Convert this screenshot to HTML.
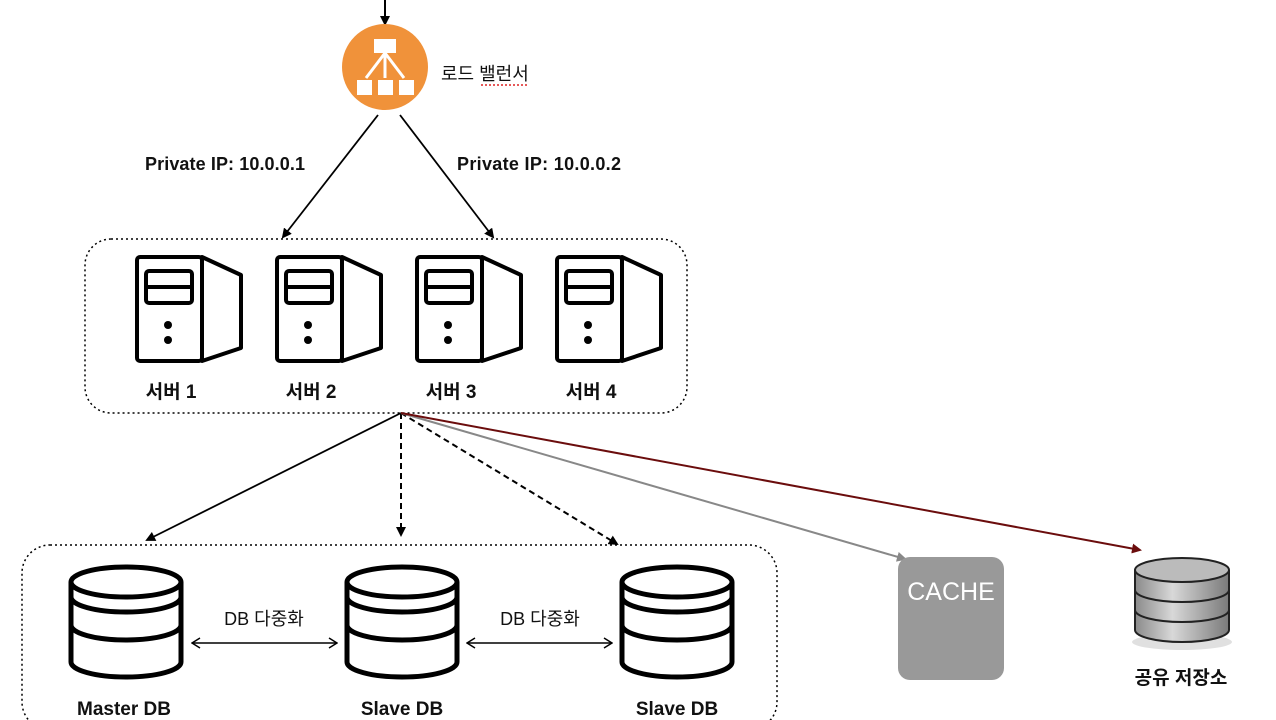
<!DOCTYPE html>
<html><head><meta charset="utf-8"><style>
html,body{margin:0;padding:0;background:#fff;width:1276px;height:720px;overflow:hidden}
text{font-family:"Liberation Sans","Noto Sans CJK KR",sans-serif}
</style></head><body>
<svg width="1276" height="720" viewBox="0 0 1276 720" xmlns="http://www.w3.org/2000/svg">
<defs>
<marker id="ab" markerWidth="10" markerHeight="10" refX="8" refY="5" orient="auto" markerUnits="userSpaceOnUse"><path d="M0,0 L10,5 L0,10 z" fill="#000"/></marker>
<marker id="ag" markerWidth="10" markerHeight="10" refX="8" refY="5" orient="auto" markerUnits="userSpaceOnUse"><path d="M0,0 L10,5 L0,10 z" fill="#888"/></marker>
<marker id="ar" markerWidth="10" markerHeight="10" refX="8" refY="5" orient="auto" markerUnits="userSpaceOnUse"><path d="M0,0 L10,5 L0,10 z" fill="#6b0d0d"/></marker>
<marker id="ao" markerWidth="10" markerHeight="12" refX="9" refY="6" orient="auto" markerUnits="userSpaceOnUse"><path d="M1,1 L9,6 L1,11" fill="none" stroke="#000" stroke-width="1.5"/></marker>
<marker id="aos" markerWidth="10" markerHeight="12" refX="9" refY="6" orient="auto-start-reverse" markerUnits="userSpaceOnUse"><path d="M1,1 L9,6 L1,11" fill="none" stroke="#000" stroke-width="1.5"/></marker>
<linearGradient id="sg" x1="0" x2="1"><stop offset="0" stop-color="#8a8a8a"/><stop offset="0.4" stop-color="#d8d8d8"/><stop offset="1" stop-color="#7a7a7a"/></linearGradient>
<g id="srv" fill="#fff" stroke="#000" stroke-width="4" stroke-linejoin="round">
<path d="M202,257 L241,275 L241,348 L202,361 Z"/>
<rect x="137" y="257" width="65" height="104" rx="3"/>
<rect x="146" y="271" width="46" height="32" rx="3"/>
<line x1="146" y1="287" x2="192" y2="287"/>
<circle cx="168" cy="325" r="4" fill="#000" stroke="none"/>
<circle cx="168" cy="340" r="4" fill="#000" stroke="none"/>
</g>
<g id="db" fill="#fff" stroke="#000" stroke-width="5">
<path d="M-55,582 L-55,662 A55,15 0 0 0 55,662 L55,582"/>
<ellipse cx="0" cy="582" rx="55" ry="15"/>
<path d="M-55,597 A55,15 0 0 0 55,597" fill="none"/>
<path d="M-55,625 A55,15 0 0 0 55,625" fill="none"/>
</g>
</defs>

<line x1="385" y1="0" x2="385" y2="24" stroke="#000" stroke-width="2" marker-end="url(#ab)"/>
<circle cx="385" cy="67" r="43" fill="#f0923a"/>
<g fill="#fff" stroke="#fff" stroke-width="3">
<rect x="374" y="39" width="22" height="14" stroke="none"/>
<line x1="385" y1="53" x2="366" y2="78"/><line x1="385" y1="53" x2="385" y2="78"/><line x1="385" y1="53" x2="404" y2="78"/>
<rect x="357" y="80" width="15" height="15" stroke="none"/><rect x="378" y="80" width="15" height="15" stroke="none"/><rect x="399" y="80" width="15" height="15" stroke="none"/>
</g>
<text x="441" y="80" font-size="18" fill="#111">로드 밸런서</text>
<path d="M481,85 L529,85" stroke="#d22" stroke-width="1.5" stroke-dasharray="2,2"/>

<line x1="378" y1="115" x2="283" y2="237" stroke="#000" stroke-width="1.8" marker-end="url(#ab)"/>
<line x1="400" y1="115" x2="493" y2="237" stroke="#000" stroke-width="1.8" marker-end="url(#ab)"/>
<text x="145" y="170" font-size="18" font-weight="bold" fill="#111" textLength="160">Private IP: 10.0.0.1</text>
<text x="457" y="170" font-size="18" font-weight="bold" fill="#111" textLength="164">Private IP: 10.0.0.2</text>

<rect x="85" y="239" width="602" height="174" rx="26" fill="none" stroke="#000" stroke-width="1.5" stroke-dasharray="2,3"/>
<use href="#srv"/><use href="#srv" x="140"/><use href="#srv" x="280"/><use href="#srv" x="420"/>
<g font-size="19" font-weight="bold" fill="#111" text-anchor="middle">
<text x="171" y="398">서버 1</text><text x="311" y="398">서버 2</text><text x="451" y="398">서버 3</text><text x="591" y="398">서버 4</text>
</g>

<line x1="401" y1="413" x2="147" y2="540" stroke="#000" stroke-width="1.8" marker-end="url(#ab)"/>
<line x1="401" y1="413" x2="401" y2="535" stroke="#000" stroke-width="2" stroke-dasharray="6,4" marker-end="url(#ab)"/>
<line x1="401" y1="413" x2="617" y2="544" stroke="#000" stroke-width="2" stroke-dasharray="6,4" marker-end="url(#ab)"/>
<line x1="401" y1="413" x2="905" y2="559" stroke="#888" stroke-width="2" marker-end="url(#ag)"/>
<line x1="401" y1="413" x2="1140" y2="550" stroke="#6b0d0d" stroke-width="2" marker-end="url(#ar)"/>

<rect x="22" y="545" width="755" height="185" rx="28" fill="none" stroke="#000" stroke-width="1.5" stroke-dasharray="2,3"/>
<use href="#db" x="126"/><use href="#db" x="402"/><use href="#db" x="677"/>
<line x1="192" y1="643" x2="337" y2="643" stroke="#000" stroke-width="1.5" marker-start="url(#aos)" marker-end="url(#ao)"/>
<line x1="467" y1="643" x2="612" y2="643" stroke="#000" stroke-width="1.5" marker-start="url(#aos)" marker-end="url(#ao)"/>
<g font-size="18" fill="#111" text-anchor="middle">
<text x="264" y="625">DB 다중화</text><text x="540" y="625">DB 다중화</text>
</g>
<g font-size="19" font-weight="bold" fill="#111" text-anchor="middle">
<text x="124" y="715">Master DB</text><text x="402" y="715">Slave DB</text><text x="677" y="715">Slave DB</text>
</g>

<rect x="898" y="557" width="106" height="123" rx="12" fill="#999"/>
<text x="951" y="600" font-size="25" fill="#fff" text-anchor="middle">CACHE</text>

<g stroke="#222" stroke-width="2">
<ellipse cx="1182" cy="642" rx="50" ry="8" fill="#ccc" stroke="none" opacity="0.6"/>
<path d="M1135,570 L1135,630 A47,12 0 0 0 1229,630 L1229,570" fill="url(#sg)"/>
<path d="M1135,590 A47,12 0 0 0 1229,590" fill="none"/>
<path d="M1135,610 A47,12 0 0 0 1229,610" fill="none"/>
<ellipse cx="1182" cy="570" rx="47" ry="12" fill="#bbb"/>
</g>
<text x="1181" y="684" font-size="19" font-weight="bold" fill="#111" text-anchor="middle">공유 저장소</text>
</svg>
</body></html>
